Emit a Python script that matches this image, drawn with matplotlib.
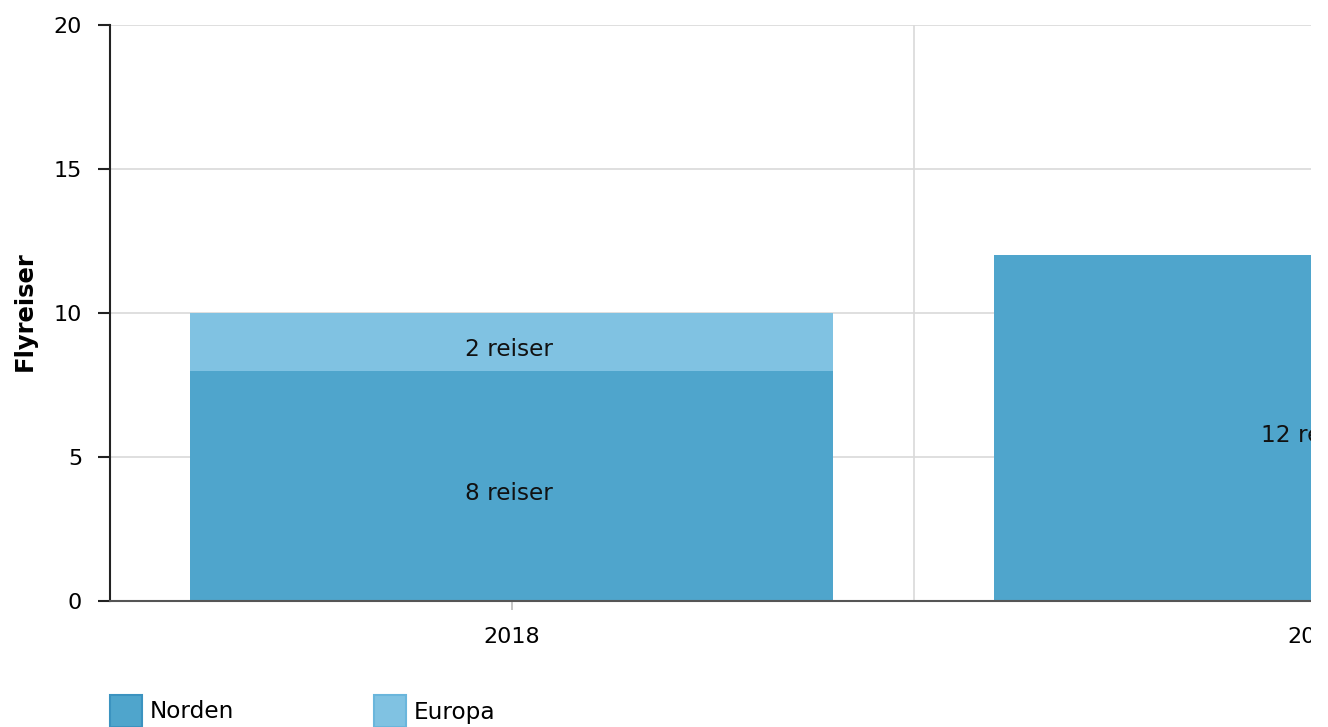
import matplotlib
matplotlib.use("Agg")
import matplotlib.pyplot as plt
from matplotlib.patches import Rectangle

years = ["2018", "2019"]
norden = [8, 12]
europa = [2, 0]
series_names = ["Norden", "Europa"]
colors = ["#4fa5cc", "#80c2e2"]
edge_colors = ["#3b93c0", "#6ab6dc"]
yticks = [0, 5, 10, 15, 20]

plt.rcParams['font.family'] = ['DejaVu Sans']
FS = 16
FSW = 16.7

W, H = 1328, 727
fig = plt.figure(figsize=(W / 100, H / 100), dpi=100)
left, right, top, bottom = 110, 1717, 25, 601
ax = fig.add_axes([left / W, (H - bottom) / H, (right - left) / W, (bottom - top) / H])

x = list(range(len(years)))
ax.bar(x, norden, width=0.8, color=colors[0], zorder=2)
ax.bar(x, europa, width=0.8, bottom=norden, color=colors[1], zorder=2)

for i in x:
    if norden[i] > 0:
        ax.text(i - 0.003, norden[i] / 2 - 0.25, f"{norden[i]} reiser", ha="center", va="center",
                fontsize=FSW, color="#111111", zorder=3)
    if europa[i] > 0:
        ax.text(i - 0.003, norden[i] + europa[i] / 2 - 0.25, f"{europa[i]} reiser", ha="center",
                va="center", fontsize=FSW, color="#111111", zorder=3)

ax.set_xlim(-0.5, len(years) - 0.5)
ax.set_ylim(0, 20)
ax.set_yticks(yticks)
ax.set_yticklabels([str(v) for v in yticks], fontsize=FS)
ax.set_xticks(x)
ax.set_xticklabels(years, fontsize=FS)
ax.set_xticks([i + 0.5 for i in x[:-1]], minor=True)

ax.grid(axis="y", which="major", color="#d9d9d9", linewidth=1.2, zorder=0)
ax.grid(axis="x", which="minor", color="#d9d9d9", linewidth=1.2, zorder=0)
ax.grid(axis="x", which="major", visible=False)

ax.tick_params(axis="y", length=9, width=1.5, color="#222222", pad=11)
ax.tick_params(axis="x", which="major", length=6.5, width=1.2, color="#bbbbbb", pad=12.5)
ax.tick_params(axis="x", which="minor", length=0)

for s in ["top", "right"]:
    ax.spines[s].set_visible(False)
ax.spines["left"].set_color("#222222")
ax.spines["left"].set_linewidth(1.5)
ax.spines["bottom"].set_color("#555555")
ax.spines["bottom"].set_linewidth(1.5)
ax.spines["bottom"].set_zorder(4)

fig.text(25 / W, 1 - 311 / H, "Flyreiser", rotation=90, fontsize=17.5, fontweight="bold",
         ha="center", va="center")

# the reference image is clipped on the right side
fig.patches.append(Rectangle((1311 / W, 0), (W - 1311) / W, 1, transform=fig.transFigure,
                             facecolor="white", edgecolor="none", zorder=10))

# legend
leg_x = [110, 374]
for k, name in enumerate(series_names):
    x0 = leg_x[k]
    fig.patches.append(Rectangle((x0 / W, 1 - 727 / H), 32 / W, 32 / H,
                                 transform=fig.transFigure, facecolor=colors[k],
                                 edgecolor=edge_colors[k], linewidth=1.5))
    fig.text((x0 + 40) / W, 1 - 712 / H, name, fontsize=FSW, ha="left", va="center")

fig.savefig("out.png", dpi=100)
